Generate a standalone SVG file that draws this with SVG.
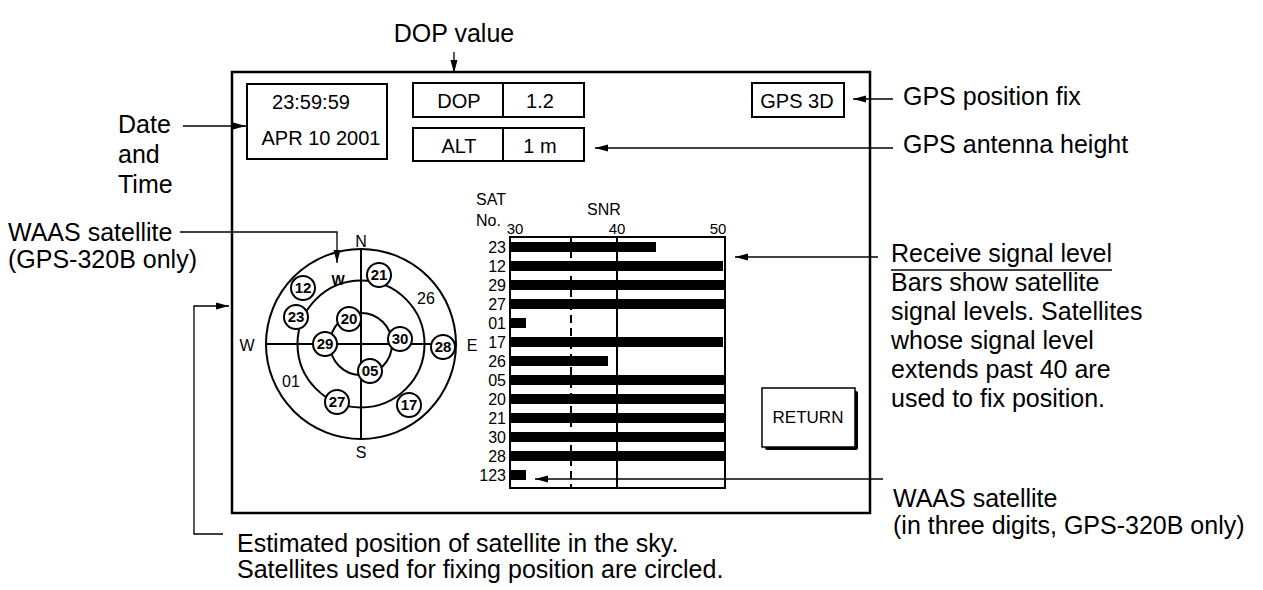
<svg xmlns="http://www.w3.org/2000/svg" width="1263" height="590" viewBox="0 0 1263 590">
<defs>
<style>
text{font-family:"Liberation Sans",Arial,Helvetica,sans-serif;fill:#000}
.ann{font-size:25px}
.scr{font-size:20px;text-anchor:middle}
.box{fill:#fff;stroke:#000;stroke-width:2}
.lead{fill:none;stroke:#000;stroke-width:1.3}
.sat{font-size:15px;font-weight:bold;text-anchor:middle}
.satc{fill:#fff;stroke:#000;stroke-width:2}
.cmp{font-size:16px;text-anchor:middle}
.row{font-size:16px;text-anchor:end}
.tick{font-size:15px;text-anchor:middle}
.bar{fill:#000}
.ln{stroke:#000;stroke-width:2;fill:none}
</style>
<marker id="ah" markerWidth="13" markerHeight="8" refX="13" refY="4" orient="auto" markerUnits="userSpaceOnUse"><path d="M0,0.5 L13,4 L0,7.5 z" fill="#000"/></marker>
</defs>
<rect width="1263" height="590" fill="#fff"/>

<g id="screen">
<rect x="232" y="72" width="638" height="441" fill="none" stroke="#000" stroke-width="2.5"/>
</g>

<g id="datetime">
<rect class="box" x="247" y="84" width="140" height="75"/>
<text class="scr" x="311" y="109">23:59:59</text>
<text class="scr" x="321" y="145">APR 10 2001</text>
</g>

<g id="dop">
<rect class="box" x="413" y="83" width="171" height="34"/>
<line class="ln" x1="503" y1="83" x2="503" y2="117"/>
<text class="scr" x="459" y="108">DOP</text>
<text class="scr" x="540" y="108">1.2</text>
</g>

<g id="alt">
<rect class="box" x="413" y="128" width="171" height="33"/>
<line class="ln" x1="503" y1="128" x2="503" y2="161"/>
<text class="scr" x="459" y="153">ALT</text>
<text class="scr" x="540" y="153">1 m</text>
</g>

<g id="fix">
<rect class="box" x="752" y="83" width="92" height="34"/>
<text class="scr" x="797" y="108">GPS 3D</text>
</g>

<g id="compass">
<circle class="ln" cx="361" cy="344" r="95"/>
<circle class="ln" cx="361" cy="344" r="63.5"/>
<circle class="ln" cx="361" cy="344" r="31"/>
<line class="ln" x1="266" y1="344" x2="456" y2="344"/>
<line class="ln" x1="361" y1="249" x2="361" y2="439"/>
<text class="cmp" x="361" y="247">N</text>
<text class="cmp" x="361" y="458">S</text>
<text class="cmp" x="247" y="351">W</text>
<text class="cmp" x="472" y="351">E</text>
<text class="sat" x="338" y="285" style="font-size:14px">W</text>
<text class="cmp" x="426" y="304">26</text>
<text class="cmp" x="291" y="387">01</text>
<g id="s21"><circle class="satc" cx="379" cy="275" r="12"/><text class="sat" x="379" y="280">21</text></g>
<g id="s12"><circle class="satc" cx="303" cy="288" r="12"/><text class="sat" x="303" y="293">12</text></g>
<g id="s23"><circle class="satc" cx="296" cy="317" r="12"/><text class="sat" x="296" y="322">23</text></g>
<g id="s20"><circle class="satc" cx="349" cy="319" r="12"/><text class="sat" x="349" y="324">20</text></g>
<g id="s29"><circle class="satc" cx="325" cy="344" r="12"/><text class="sat" x="325" y="349">29</text></g>
<g id="s30"><circle class="satc" cx="400" cy="339" r="12"/><text class="sat" x="400" y="344">30</text></g>
<g id="s28"><circle class="satc" cx="443" cy="347" r="12"/><text class="sat" x="443" y="352">28</text></g>
<g id="s05"><circle class="satc" cx="370" cy="371" r="12"/><text class="sat" x="370" y="376">05</text></g>
<g id="s27"><circle class="satc" cx="337" cy="402" r="12"/><text class="sat" x="337" y="407">27</text></g>
<g id="s17"><circle class="satc" cx="409" cy="405" r="12"/><text class="sat" x="409" y="410">17</text></g>
</g>

<g id="snr">
<text x="476" y="205" style="font-size:16px">SAT</text>
<text x="476" y="226" style="font-size:16px">No.</text>
<text class="cmp" x="604" y="215">SNR</text>
<text class="tick" x="515" y="234">30</text>
<text class="tick" x="617" y="234">40</text>
<text class="tick" x="718" y="234">50</text>
<rect class="bar" x="510" y="242" width="146" height="10"/>
<rect class="bar" x="510" y="261" width="213" height="10"/>
<rect class="bar" x="510" y="280" width="215" height="10"/>
<rect class="bar" x="510" y="299" width="215" height="10"/>
<rect class="bar" x="510" y="318" width="16" height="10"/>
<rect class="bar" x="510" y="337" width="213" height="10"/>
<rect class="bar" x="510" y="356" width="98" height="10"/>
<rect class="bar" x="510" y="375" width="215" height="10"/>
<rect class="bar" x="510" y="394" width="215" height="10"/>
<rect class="bar" x="510" y="413" width="215" height="10"/>
<rect class="bar" x="510" y="432" width="215" height="10"/>
<rect class="bar" x="510" y="451" width="215" height="10"/>
<rect class="bar" x="510" y="470" width="16" height="10"/>
<line class="ln" x1="571" y1="237" x2="571" y2="488" stroke-dasharray="8 5"/>
<line class="ln" x1="617" y1="237" x2="617" y2="488"/>
<rect class="ln" x="510" y="237" width="215" height="251"/>
<text class="row" x="506" y="253">23</text>
<text class="row" x="506" y="272">12</text>
<text class="row" x="506" y="291">29</text>
<text class="row" x="506" y="310">27</text>
<text class="row" x="506" y="329">01</text>
<text class="row" x="506" y="348">17</text>
<text class="row" x="506" y="367">26</text>
<text class="row" x="506" y="386">05</text>
<text class="row" x="506" y="405">20</text>
<text class="row" x="506" y="424">21</text>
<text class="row" x="506" y="443">30</text>
<text class="row" x="506" y="462">28</text>
<text class="row" x="506" y="481">123</text>
</g>

<g id="return">
<rect x="765" y="391" width="93" height="59" rx="2" fill="#000"/>
<rect x="762" y="388" width="93" height="59" fill="#fff" stroke="#000" stroke-width="1.5"/>
<text x="808" y="423" style="font-size:17px;text-anchor:middle">RETURN</text>
</g>

<g id="labels">
<text class="ann" x="454" y="42" text-anchor="middle">DOP value</text>
<text class="ann" x="118" y="133">Date</text>
<text class="ann" x="118" y="163">and</text>
<text class="ann" x="118" y="193">Time</text>
<text class="ann" x="903" y="105">GPS position fix</text>
<text class="ann" x="903" y="153">GPS antenna height</text>
<text class="ann" x="8" y="241">WAAS satellite</text>
<text class="ann" x="8" y="268">(GPS-320B only)</text>
<text class="ann" x="891" y="262">Receive signal level</text>
<line x1="891" y1="270" x2="1112" y2="270" stroke="#000" stroke-width="1.3"/>
<text class="ann" x="891" y="291">Bars show satellite</text>
<text class="ann" x="891" y="320">signal levels. Satellites</text>
<text class="ann" x="891" y="349">whose signal level</text>
<text class="ann" x="891" y="378">extends past 40 are</text>
<text class="ann" x="891" y="407">used to fix position.</text>
<text class="ann" x="893" y="507">WAAS satellite</text>
<text class="ann" x="893" y="534">(in three digits, GPS-320B only)</text>
<text class="ann" x="237" y="552">Estimated position of satellite in the sky.</text>
<text class="ann" x="237" y="578">Satellites used for fixing position are circled.</text>
</g>

<g id="connectors">
<line class="lead" x1="454" y1="52" x2="454" y2="73" marker-end="url(#ah)"/>
<line class="lead" x1="183" y1="126" x2="246" y2="126" marker-end="url(#ah)"/>
<line class="lead" x1="893" y1="99" x2="853" y2="99" marker-end="url(#ah)"/>
<line class="lead" x1="893" y1="148" x2="595" y2="148" marker-end="url(#ah)"/>
<polyline class="lead" points="180,232 337,232 337,263" marker-end="url(#ah)"/>
<polyline class="lead" points="223,534 194,534 194,306 229,306" marker-end="url(#ah)"/>
<line class="lead" x1="878" y1="257" x2="735" y2="257" marker-end="url(#ah)"/>
<line class="lead" x1="883" y1="479" x2="535" y2="479" marker-end="url(#ah)"/>
</g>
</svg>
